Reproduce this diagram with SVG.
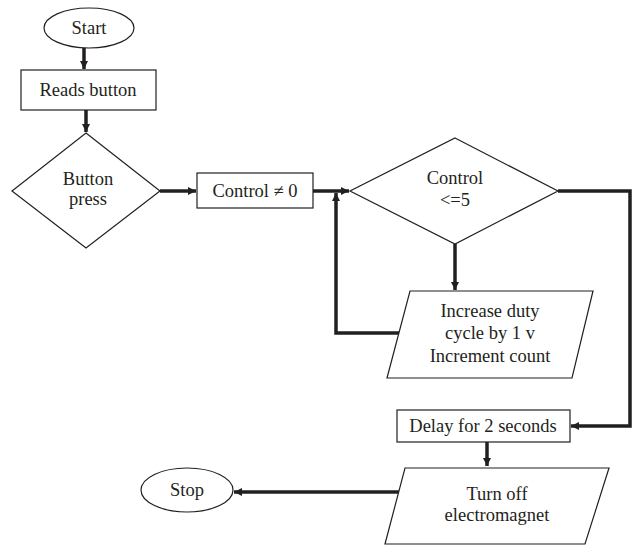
<svg xmlns="http://www.w3.org/2000/svg" width="635" height="545" viewBox="0 0 635 545">
<style>
.s{fill:#fff;stroke:#231f20;stroke-width:1.2}
.t{font-family:"Liberation Serif",serif;font-size:18.5px;fill:#231f20;text-anchor:middle}
.c{fill:none;stroke:#231f20;stroke-width:3.5}
</style>
<defs>
<marker id="a" markerUnits="userSpaceOnUse" markerWidth="10" markerHeight="10" refX="8" refY="5" orient="auto">
<path d="M0,1 L8,5 L0,9 Z" fill="#231f20"/>
</marker>
</defs>
<g id="connectors">
<path class="c" d="M84,48 V69" marker-end="url(#a)"/>
<path class="c" d="M86,110 V132" marker-end="url(#a)"/>
<path class="c" d="M160,191 H196" marker-end="url(#a)"/>
<path class="c" d="M313,191 H349" marker-end="url(#a)"/>
<path class="c" d="M455,244 V290" marker-end="url(#a)"/>
<path class="c" d="M399,333 H336 V193" marker-end="url(#a)"/>
<path class="c" d="M558,191 H630 V426 H571" marker-end="url(#a)"/>
<path class="c" d="M487,442 V466" marker-end="url(#a)"/>
<path class="c" d="M400,492 H234" marker-end="url(#a)"/>
</g>
<g id="start">
<ellipse class="s" cx="89" cy="28" rx="45" ry="20"/>
<text class="t" x="89" y="34">Start</text>
</g>
<g id="reads">
<rect class="s" x="21" y="70" width="135" height="40"/>
<text class="t" x="88" y="96">Reads button</text>
</g>
<g id="buttonpress">
<path class="s" d="M86,133 L160,191 L86,248 L12,191 Z"/>
<text class="t" x="88" y="185">Button</text>
<text class="t" x="88" y="205">press</text>
</g>
<g id="control0">
<rect class="s" x="197" y="173" width="116" height="35"/>
<text class="t" x="255" y="197">Control ≠ 0</text>
</g>
<g id="control5">
<path class="s" d="M455,138 L558,191 L455,244 L350,191 Z"/>
<text class="t" x="455" y="184">Control</text>
<text class="t" x="455" y="206">&lt;=5</text>
</g>
<g id="increase">
<path class="s" d="M410,291 L593,291 L572,378 L387,378 Z"/>
<text class="t" x="490" y="317">Increase duty</text>
<text class="t" x="490" y="339">cycle by 1 v</text>
<text class="t" x="490" y="362">Increment count</text>
</g>
<g id="delay">
<rect class="s" x="397" y="410" width="173" height="32"/>
<text class="t" x="483" y="432">Delay for 2 seconds</text>
</g>
<g id="turnoff">
<path class="s" d="M405,468 L609,468 L585,544 L385,544 Z"/>
<text class="t" x="497" y="500">Turn off</text>
<text class="t" x="497" y="521">electromagnet</text>
</g>
<g id="stop">
<ellipse class="s" cx="187" cy="490" rx="46" ry="22"/>
<text class="t" x="187" y="496">Stop</text>
</g>
</svg>
